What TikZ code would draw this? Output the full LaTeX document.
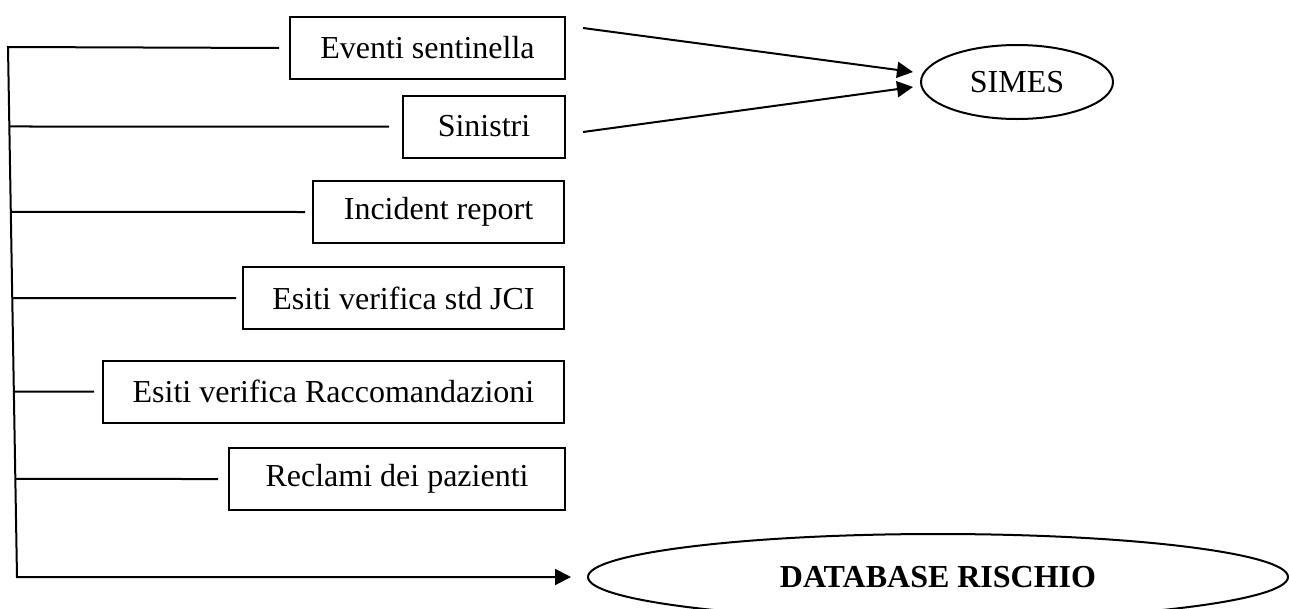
\documentclass[tikz,border=0pt]{standalone}
\usepackage{fontspec}
\setmainfont{Liberation Serif}
\usetikzlibrary{shapes.geometric,arrows.meta,calc}
\begin{document}
\begin{tikzpicture}[x=1pt,y=-1pt,line width=2pt,
  box/.style={draw,rectangle,inner sep=0pt,minimum height=62pt,font=\fontsize{32}{38}\selectfont},
  oval/.style={draw,ellipse,inner sep=0pt,font=\fontsize{32}{38}\selectfont},
  arr/.style={-{Triangle[length=16pt,width=16pt]}}]
\useasboundingbox (0,0) rectangle (1289,608);
\clip (0,0) rectangle (1289,608);
\node[box,minimum width=275pt] (ev) at (427.5,48) {Eventi sentinella};
\node[box,minimum width=162pt] (si) at (484,126.5) {Sinistri};
\node[box,minimum width=251pt] (ir) at (438.5,212) {Incident report};
\node[box,minimum width=321pt] (jci) at (403.5,298) {Esiti verifica std JCI};
\node[box,minimum width=461pt] (ra) at (333.5,391.5) {Esiti verifica Raccomandazioni};
\node[box,minimum width=336pt] (re) at (397,479) {Reclami dei pazienti};
\node[oval,minimum width=192pt,minimum height=74pt] (sim) at (1017,82) {SIMES};
\node[oval,minimum width=700pt,minimum height=86pt] (db) at (938,577) {\textbf{DATABASE RISCHIO}};
\coordinate (vt) at (8,47);
\coordinate (vb) at (17,577);
% trunk
\draw[arr] ([xshift=-10pt]ev.west) -- (vt) -- (vb) -- ([xshift=-16pt]db.west);
% branches
\draw ($(vt)!0.15!(vb)$) -- ([xshift=-13pt]si.west);
\draw ($(vt)!0.311!(vb)$) -- ([xshift=-7pt]ir.west);
\draw ($(vt)!0.474!(vb)$) -- ([xshift=-6pt]jci.west);
\draw ($(vt)!0.65!(vb)$) -- ([xshift=-8pt]ra.west);
\draw ($(vt)!0.815!(vb)$) -- ([xshift=-10pt]re.west);
% to SIMES
\draw[arr] ([shift={(17,-20)}]ev.east) -- ([shift={(-7,-10)}]sim.west);
\draw[arr] ([shift={(17,5.5)}]si.east) -- ([shift={(-7,5)}]sim.west);
\end{tikzpicture}
\end{document}
